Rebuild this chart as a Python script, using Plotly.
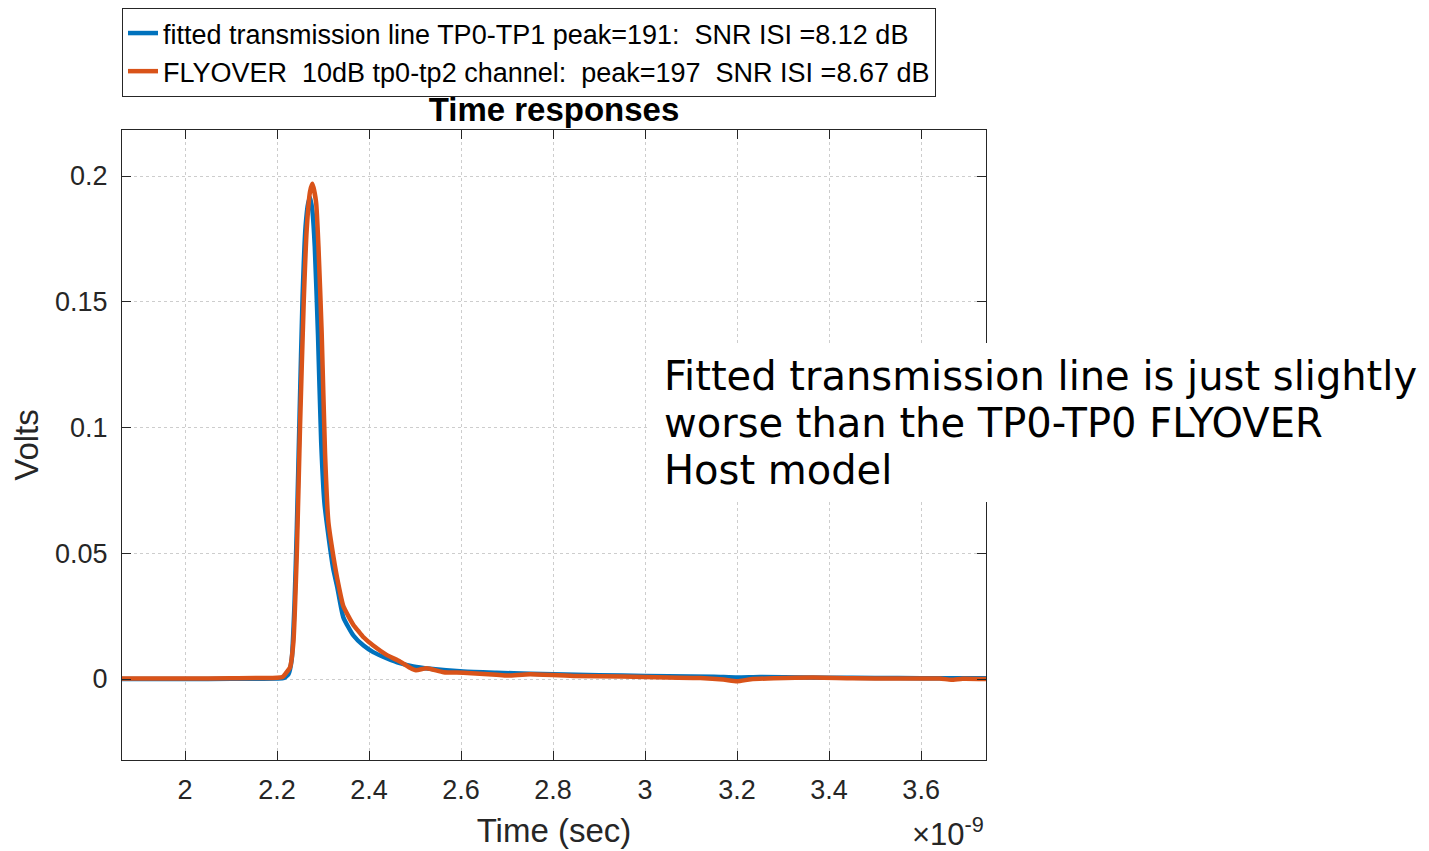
import plotly.graph_objects as go

# ---- data (time in ns, shown with a x10^-9 multiplier) ----
t_fit = [1.863, 2.0, 2.1, 2.2, 2.215, 2.225, 2.232, 2.238, 2.243, 2.249, 2.2555, 2.262,
         2.268, 2.272, 2.277, 2.282, 2.289, 2.296, 2.303, 2.311, 2.322, 2.331, 2.344,
         2.366, 2.388, 2.409, 2.438, 2.467, 2.496, 2.533, 2.605, 2.677, 2.75, 2.85,
         2.95, 3.05, 3.15, 3.2, 3.25, 3.35, 3.45, 3.55, 3.65, 3.741]
v_fit = [0.0, 0.0, 0.0001, 0.0002, 0.0004, 0.002, 0.008, 0.03, 0.060, 0.105, 0.152, 0.180,
         0.1895, 0.1915, 0.186, 0.172, 0.137, 0.094, 0.070, 0.058, 0.044, 0.0365, 0.0246,
         0.0173, 0.0133, 0.0107, 0.0083, 0.0063, 0.0050, 0.0041, 0.0030, 0.0025, 0.0021, 0.0017,
         0.0014, 0.0011, 0.0009, 0.0006, 0.0008, 0.0006, 0.0005, 0.0004, 0.0003, 0.0003]

t_fly = [1.863, 2.0, 2.1, 2.2, 2.212, 2.22, 2.228, 2.2355, 2.243, 2.25, 2.258, 2.2645,
         2.2717, 2.2768, 2.2848, 2.29, 2.297, 2.3043, 2.3116, 2.3225, 2.3333, 2.344, 2.355,
         2.366, 2.377, 2.388, 2.409, 2.438, 2.467, 2.489, 2.502, 2.525, 2.562, 2.605, 2.677,
         2.70, 2.75, 2.85, 2.95, 3.05, 3.12, 3.17, 3.2, 3.23, 3.28, 3.365, 3.45, 3.55,
         3.64, 3.665, 3.69, 3.741]
v_fly = [0.0002, 0.0002, 0.0003, 0.0005, 0.0008, 0.0025, 0.0045, 0.0145, 0.050, 0.1007, 0.150, 0.1788,
         0.1938, 0.1969, 0.1897, 0.172, 0.1377, 0.0898, 0.0624, 0.0487, 0.0377, 0.0290, 0.0250,
         0.0215, 0.0190, 0.0166, 0.0133, 0.0096, 0.0070, 0.0045, 0.0035, 0.0043, 0.0027, 0.0025, 0.0017,
         0.0014, 0.0019, 0.0012, 0.0010, 0.0006, 0.0004, -0.0002, -0.0009, -0.0001, 0.0003, 0.0006, 0.0003, 0.0002,
         0.0002, -0.0003, 0.0001, 0.0]

name_fit = "fitted transmission line TP0-TP1 peak=191:\u00a0 SNR ISI =8.12 dB"
name_fly = "FLYOVER\u00a0 10dB tp0-tp2 channel:\u00a0 peak=197\u00a0 SNR ISI =8.67 dB"
title_text = "Time responses"
x_title = "Time (sec)"
y_title = "Volts"
note_lines = ["Fitted transmission line is just slightly",
              "worse than the TP0-TP0 FLYOVER",
              "Host model"]
x_ticks = [2.0, 2.2, 2.4, 2.6, 2.8, 3.0, 3.2, 3.4, 3.6]
x_ticktext = ["2", "2.2", "2.4", "2.6", "2.8", "3", "3.2", "3.4", "3.6"]
y_ticks = [0, 0.05, 0.1, 0.15, 0.2]
y_ticktext = ["0", "0.05", "0.1", "0.15", "0.2"]

# page offset (browser body margin)
OFF = 8
W, H = 1429 - OFF, 851 - OFF
L, R, T, B = 122 - OFF, 986 - OFF, 130 - OFF, 760 - OFF
pw, ph = R - L, B - T


def px_x(p):  # page px -> paper x
    return (p - OFF - L) / pw


def px_y(p):  # page px -> paper y
    return (B - (p - OFF)) / ph


fig = go.Figure()
fig.add_trace(go.Scatter(x=t_fit, y=v_fit, mode="lines", name=name_fit,
                         line=dict(color="#0072BD", width=4.5, shape="spline", smoothing=0.5)))
fig.add_trace(go.Scatter(x=t_fly, y=v_fly, mode="lines", name=name_fly,
                         line=dict(color="#D95319", width=4.5, shape="spline", smoothing=0.5)))

FONT = "Liberation Sans, Arial"
axis_common = dict(showline=True, linecolor="#262626", linewidth=1, mirror="ticks",
                   ticks="inside", ticklen=9, tickcolor="#262626", tickwidth=1,
                   showgrid=True, gridcolor="#cdcdcd", griddash="dot", gridwidth=1,
                   zeroline=False,
                   tickfont=dict(family=FONT, size=27, color="#262626"))

fig.update_xaxes(range=[1.863, 3.741], tickvals=x_ticks, ticktext=x_ticktext,
                 ticklabelstandoff=6,
                 title=dict(text=x_title, font=dict(family=FONT, size=33, color="#262626"),
                            standoff=14),
                 **axis_common)
fig.update_yaxes(range=[-0.0322, 0.2183], tickvals=y_ticks, ticktext=y_ticktext,
                 ticklabelstandoff=8,
                 title=dict(text=y_title, font=dict(family=FONT, size=33, color="#262626"),
                            standoff=10),
                 **axis_common)

annotations = []
for i, line in enumerate(note_lines):
    annotations.append(dict(text=line, xref="paper", yref="paper",
                            x=px_x(662), y=px_y(376 + 47 * i), xanchor="left", yanchor="middle",
                            showarrow=False, align="left",
                            font=dict(family="DejaVu Sans", size=40, color="black")))
annotations.append(dict(text="\u00d710<sup>-9</sup>", xref="paper", yref="paper",
                        x=1.0, y=px_y(832), xanchor="right", yanchor="middle", showarrow=False,
                        font=dict(family=FONT, size=31, color="#262626")))

fig.update_layout(
    width=W, height=H,
    margin=dict(l=L, r=W - R, t=T, b=H - B, autoexpand=False),
    paper_bgcolor="white", plot_bgcolor="white",
    title=dict(text="<b>" + title_text + "</b>", x=(554 - OFF) / W, xanchor="center",
               y=1 - (109 - OFF) / H, yanchor="middle",
               font=dict(family=FONT, size=33, color="black")),
    showlegend=True,
    legend=dict(x=0, xanchor="left", y=px_y(OFF), yanchor="top",
                bordercolor="#262626", borderwidth=1, bgcolor="white",
                font=dict(family=FONT, size=27, color="black"),
                tracegroupgap=0),
    shapes=[dict(type="rect", xref="paper", yref="paper", layer="above",
                 x0=px_x(650), x1=px_x(1440), y0=px_y(343), y1=px_y(502),
                 fillcolor="white", line=dict(width=0))],
    annotations=annotations,
)

fig.write_html("out.html")
